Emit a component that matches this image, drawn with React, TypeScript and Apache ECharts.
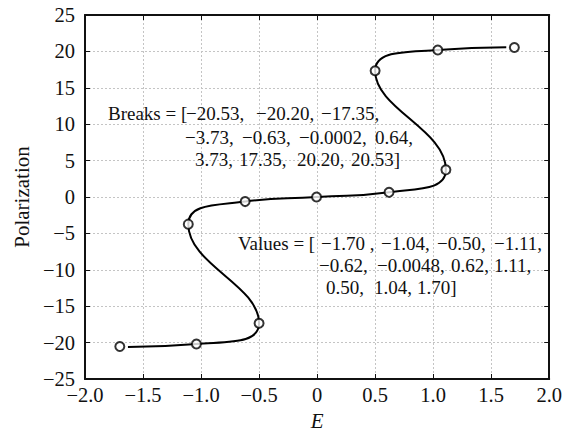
import React, { useEffect, useRef } from "react";
import * as echarts from "echarts";

const breaks = [-20.53, -20.2, -17.35, -3.73, -0.63, -0.0002, 0.64, 3.73, 17.35, 20.2, 20.53];
const values = [-1.7, -1.04, -0.5, -1.11, -0.62, -0.0048, 0.62, 1.11, 0.5, 1.04, 1.7];
// curve (end segments stop short of the outer markers)
const curveE = [-1.63, -1.04, -0.5, -1.11, -0.62, 0, 0.62, 1.11, 0.5, 1.04, 1.63];
const curveP = [-20.6, -20.2, -17.35, -3.73, -0.63, 0, 0.64, 3.73, 17.35, 20.2, 20.58];
const xTicks = [-2, -1.5, -1, -0.5, 0, 0.5, 1, 1.5, 2];
const yTicks = [-25, -20, -15, -10, -5, 0, 5, 10, 15, 20, 25];

// annotation text, one row per line
const breaksRows = [
  ["Breaks = [", "\u221220.53,", "\u221220.20,", "\u221217.35,"],
  ["\u22123.73,", "\u22120.63,", "\u22120.0002,", "0.64,"],
  ["3.73,", "17.35,", "20.20,", "20.53]"],
];
const valuesRows = [
  ["Values = [", "\u22121.70 ,", "\u22121.04,", "\u22120.50,", "\u22121.11,"],
  ["\u22120.62,", "\u22120.0048,", "0.62,", "1.11,"],
  ["0.50,", "1.04,", "1.70]"],
];
// layout (pixel x of each token, pixel y of each row)
const breaksX = [
  [108, 186, 256, 321],
  [185, 242, 299, 375],
  [195, 239, 297, 351],
];
const breaksY = [113, 137, 159];
const valuesX = [
  [238, 321, 381, 437, 494],
  [319, 377, 451, 494],
  [326, 374, 417],
];
const valuesY = [243, 265, 287];

const FONT = "'Liberation Serif', 'Times New Roman', serif";

function fmt(v: number, axis: "x" | "y") {
  const s = v === 0 ? "0" : axis === "x" ? Math.abs(v).toFixed(1) : String(Math.abs(v));
  return v < 0 ? "\u2212" + s : s;
}

export default function App() {
  const ref = useRef<HTMLDivElement>(null);
  useEffect(() => {
    if (!ref.current) return;
    const chart = echarts.init(ref.current, undefined, { renderer: "svg" });
    const axisCommon = {
      axisLine: { onZero: false, lineStyle: { color: "#111", width: 2 } },
      axisTick: { inside: true, length: 5, lineStyle: { color: "#111", width: 1 } },
    };
    const textStyle = { fontFamily: FONT, fontSize: 19, fill: "#111", verticalAlign: "middle" };
    const graphics: any[] = [];
    const addRows = (rows: string[][], xs: number[][], ys: number[]) => {
      rows.forEach((row, r) =>
        row.forEach((t, i) =>
          graphics.push({
            type: "text",
            x: xs[r][i],
            y: ys[r],
            z: 10,
            style: { text: t, ...textStyle },
          })
        )
      );
    };
    addRows(breaksRows, breaksX, breaksY);
    addRows(valuesRows, valuesX, valuesY);

    chart.setOption({
      animation: false,
      backgroundColor: "#fff",
      grid: { left: 85, right: 13, top: 15, bottom: 55 },
      xAxis: [
        {
          type: "value",
          min: xTicks[0],
          max: xTicks[xTicks.length - 1],
          interval: 0.5,
          ...axisCommon,
          axisLabel: {
            fontFamily: FONT,
            fontSize: 20.5,
            color: "#111",
            margin: 5,
            formatter: (v: number) => fmt(v, "x"),
          },
          splitLine: { show: true, lineStyle: { color: "#c4c4c4", type: [2, 2], width: 1 } },
          name: "E",
          nameLocation: "middle",
          nameGap: 31,
          nameTextStyle: { fontFamily: FONT, fontSize: 21, fontStyle: "italic", color: "#111" },
        },
        {
          type: "value",
          position: "top",
          min: xTicks[0],
          max: xTicks[xTicks.length - 1],
          interval: 0.5,
          ...axisCommon,
          axisLabel: { show: false },
          splitLine: { show: false },
        },
      ],
      yAxis: [
        {
          type: "value",
          min: yTicks[0],
          max: yTicks[yTicks.length - 1],
          interval: 5,
          ...axisCommon,
          axisLabel: {
            fontFamily: FONT,
            fontSize: 20.5,
            color: "#111",
            margin: 10,
            formatter: (v: number) => fmt(v, "y"),
          },
          splitLine: { show: true, lineStyle: { color: "#c4c4c4", type: [2, 2], width: 1 } },
          name: "Polarization",
          nameLocation: "middle",
          nameGap: 52,
          nameTextStyle: { fontFamily: FONT, fontSize: 21, color: "#111" },
        },
        {
          type: "value",
          position: "right",
          min: yTicks[0],
          max: yTicks[yTicks.length - 1],
          interval: 5,
          ...axisCommon,
          axisLabel: { show: false },
          splitLine: { show: false },
        },
      ],
      series: [
        {
          type: "line",
          data: curveE.map((e, i) => [e, curveP[i]]),
          smooth: 0.5,
          showSymbol: false,
          lineStyle: { color: "#000", width: 2 },
          z: 2,
        },
        {
          type: "scatter",
          data: values.map((e, i) => [e, breaks[i]]),
          symbol: "circle",
          symbolSize: 9,
          itemStyle: { color: "#fff", borderColor: "#000", borderWidth: 2 },
          z: 3,
        },
      ],
      graphic: graphics,
    });
    return () => chart.dispose();
  }, []);
  return <div ref={ref} style={{ position: "fixed", left: 0, top: 0, width: 565, height: 436 }} />;
}
